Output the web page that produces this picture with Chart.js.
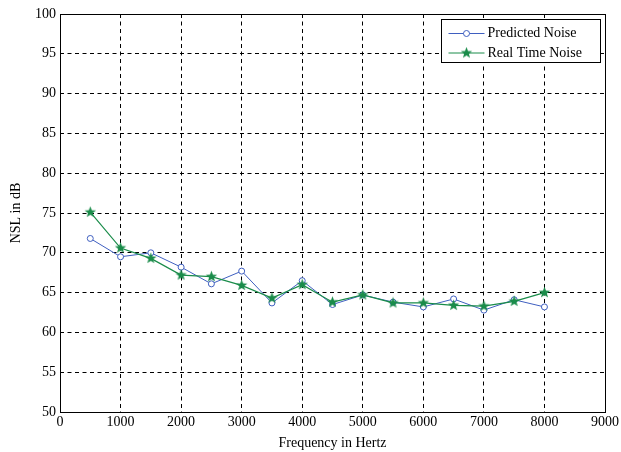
<!DOCTYPE html>
<html>
<head>
<meta charset="utf-8">
<script src="https://cdn.jsdelivr.net/npm/chart.js@4/dist/chart.umd.min.js"></script>
<style>
  html, body { margin: 0; padding: 0; background: #fff; }
  #c { display: block; }
</style>
</head>
<body>
<canvas id="c" width="621" height="452"></canvas>
<script>
const freqs = [500, 1000, 1500, 2000, 2500, 3000, 3500, 4000, 4500, 5000, 5500, 6000, 6500, 7000, 7500, 8000];
const predicted = [71.8, 69.5, 70.0, 68.2, 66.1, 67.7, 63.7, 66.5, 63.5, 64.7, 63.8, 63.2, 64.2, 62.8, 64.1, 63.2];
const realTime = [75.1, 70.6, 69.3, 67.2, 67.0, 65.9, 64.3, 66.0, 63.8, 64.7, 63.7, 63.7, 63.4, 63.3, 63.9, 65.0];
const seriesNames = ["Predicted Noise", "Real Time Noise"];

const BLUE = "#3f5fc0";
const GREEN = "#1a8c4a";
const FONT = '"Liberation Serif", "Times New Roman", serif';

Chart.defaults.font.family = FONT;
Chart.defaults.font.size = 14;
Chart.defaults.color = "#000";

// filled pentagram used as point marker
function starMarker(color) {
  const c = document.createElement("canvas");
  c.width = 13; c.height = 13;
  const g = c.getContext("2d");
  g.beginPath();
  for (let i = 0; i < 10; i++) {
    const r = i % 2 === 0 ? 6 : 2.5;
    const a = -Math.PI / 2 + i * Math.PI / 5;
    const px = 6.5 + r * Math.cos(a), py = 6.5 + r * Math.sin(a);
    if (i === 0) g.moveTo(px, py); else g.lineTo(px, py);
  }
  g.closePath();
  g.fillStyle = color;
  g.fill();
  return c;
}
const star = starMarker(GREEN);

function points(ys) {
  return freqs.map((x, i) => ({ x, y: ys[i] }));
}

// solid box round the plot and a boxed legend in the top right corner
const frameAndLegend = {
  id: "frameAndLegend",
  afterDraw(chart) {
    const { ctx, chartArea: a } = chart;
    ctx.save();
    ctx.strokeStyle = "#000";
    ctx.lineWidth = 1;
    ctx.setLineDash([]);
    ctx.strokeRect(Math.round(a.left) + 0.5, Math.round(a.top) + 0.5, Math.round(a.right - a.left), Math.round(a.bottom - a.top));

    const w = 159, h = 43;
    const x0 = Math.round(a.right - 5 - w) + 0.5, y0 = Math.round(a.top + 5) + 0.5;
    ctx.fillStyle = "#fff";
    ctx.fillRect(x0, y0, w, h);
    ctx.strokeRect(x0, y0, w, h);

    ctx.font = "14px " + FONT;
    ctx.textBaseline = "middle";
    const rows = [
      { name: seriesNames[0], color: BLUE, mark: "circle" },
      { name: seriesNames[1], color: GREEN, mark: "star" }
    ];
    rows.forEach((r, i) => {
      const cy = y0 + 14 + i * 19.5;
      ctx.strokeStyle = r.color;
      ctx.lineWidth = 1;
      ctx.beginPath();
      ctx.moveTo(x0 + 7, cy);
      ctx.lineTo(x0 + 43, cy);
      ctx.stroke();
      if (r.mark === "circle") {
        ctx.beginPath();
        ctx.arc(x0 + 25, cy, 3, 0, Math.PI * 2);
        ctx.fillStyle = "#fff";
        ctx.fill();
        ctx.stroke();
      } else {
        ctx.drawImage(star, x0 + 25 - 6.5, cy - 6.5);
      }
      ctx.fillStyle = "#000";
      ctx.fillText(r.name, x0 + 46, cy);
    });
    ctx.restore();
  }
};

new Chart(document.getElementById("c"), {
  type: "line",
  data: {
    datasets: [
      {
        label: seriesNames[0],
        data: points(predicted),
        borderColor: BLUE,
        backgroundColor: "#fff",
        borderWidth: 1,
        pointStyle: "circle",
        pointRadius: 3,
        pointBorderWidth: 1,
        pointBorderColor: BLUE,
        tension: 0,
        order: 2
      },
      {
        label: seriesNames[1],
        data: points(realTime),
        borderColor: GREEN,
        backgroundColor: GREEN,
        borderWidth: 1.2,
        pointStyle: star,
        tension: 0,
        order: 1
      }
    ]
  },
  options: {
    responsive: false,
    animation: false,
    layout: { padding: { top: 14, right: 16, left: 0, bottom: 0 } },
    plugins: { legend: { display: false }, tooltip: { enabled: false } },
    scales: {
      x: {
        type: "linear",
        min: 0,
        max: 9000,
        afterFit: s => { s.height = 40; },
        ticks: { stepSize: 1000, padding: 2, maxRotation: 0, color: "#000", font: { size: 14 }, callback: v => String(v) },
        grid: { color: "#000", lineWidth: 1, drawTicks: false },
        border: { display: false, dash: [4, 3.5] },
        title: { display: true, text: "Frequency in Hertz", padding: { top: 0, bottom: 0 }, font: { size: 14 } }
      },
      y: {
        min: 50,
        max: 100,
        afterFit: s => { s.width = 60; },
        ticks: { stepSize: 5, padding: 4, color: "#000", font: { size: 14 } },
        grid: { color: "#000", lineWidth: 1, drawTicks: false },
        border: { display: false, dash: [4, 3.5] },
        title: { display: true, text: "NSL in dB", padding: { top: 8, bottom: 0 }, font: { size: 14 } }
      }
    }
  },
  plugins: [frameAndLegend]
});
</script>
</body>
</html>
